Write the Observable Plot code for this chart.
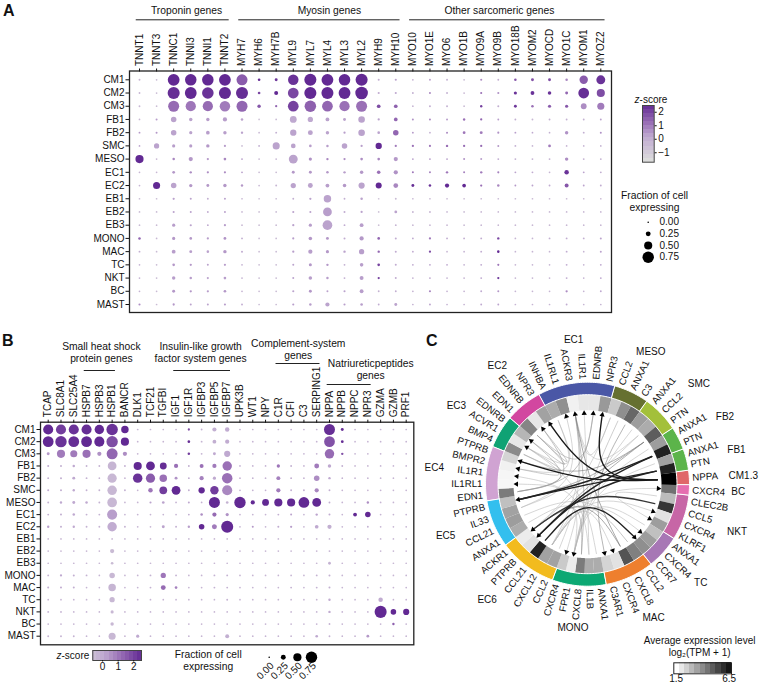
<!DOCTYPE html>
<html><head><meta charset="utf-8">
<script src="https://cdn.jsdelivr.net/npm/d3@7"></script>
<script src="https://cdn.jsdelivr.net/npm/@observablehq/plot@0.6"></script>
<style>
html,body{margin:0;padding:0;background:#fff}
#page{position:relative;width:760px;height:686px;overflow:hidden;font-family:"Liberation Sans",Arial,sans-serif;color:#111}
#page>svg,#page>figure{position:absolute;margin:0;background:transparent}
.letter{position:absolute;font-weight:bold;font-size:16px;line-height:16px}
</style></head><body><div id="page"></div>
<script>
const cellTypes=["CM1","CM2","CM3","FB1","FB2","SMC","MESO","EC1","EC2","EB1","EB2","EB3","MONO","MAC","TC","NKT","BC","MAST"];
const genesA=["TNNT1","TNNT3","TNNC1","TNNI3","TNNI1","TNNT2","MYH7","MYH6","MYH7B","MYL9","MYL7","MYL4","MYL3","MYL2","MYH9","MYH10","MYO10","MYO1E","MYO6","MYO1B","MYO9A","MYO9B","MYO18B","MYOM2","MYOCD","MYO1C","MYOM1","MYOZ2"];
const groupsA=[["Troponin genes","TNNT1","TNNT2"],["Myosin genes","MYH7","MYH10"],["Other sarcomeric genes","MYO10","MYOZ2"]];
const fractionA=[
[.02,.01,.78,.76,.76,.78,.72,.08,.1,.68,.8,.78,.76,.8,.03,.04,.01,.02,.02,.01,.04,.02,.07,.1,.1,.07,.52,.56],
[.02,.01,.8,.78,.76,.8,.8,.08,.18,.7,.8,.8,.78,.84,.04,.04,.02,.03,.02,.01,.04,.04,.12,.17,.15,.1,.7,.5],
[.02,.01,.72,.66,.66,.68,.72,.14,.05,.7,.76,.7,.66,.72,.16,.16,.01,.02,.02,.01,.06,.03,.1,.07,.12,.12,.32,.42],
[.01,.03,.3,.14,.14,.2,.07,.01,.01,.4,.28,.17,.1,.38,.05,.16,.03,.03,.03,.06,.05,.02,.02,.02,.02,.02,.02,.02],
[.02,.03,.3,.12,.16,.14,.06,.01,.02,.36,.25,.14,.05,.38,.08,.3,.02,.01,.03,.09,.1,.04,.02,.01,.01,.14,.02,.03],
[.01,.28,.12,.12,.14,.05,.01,.02,.42,.24,.08,.07,.3,.05,.36,.05,.05,.04,.06,.05,.05,.03,.02,.01,.09,.01,.01,.01],
[.5,.01,.07,.2,.05,.08,.02,.01,.01,.56,.12,.06,.05,.08,.08,.2,.02,.02,.02,.03,.03,.02,.02,.02,.02,.14,.02,.02],
[.01,.01,.09,.06,.05,.05,.02,.01,.01,.1,.1,.07,.06,.14,.15,.2,.03,.03,.06,.03,.06,.04,.02,.02,.01,.22,.02,.02],
[.01,.42,.3,.13,.1,.14,.06,.01,.02,.28,.25,.17,.15,.35,.34,.24,.1,.07,.2,.16,.05,.07,.02,.02,.02,.18,.02,.02],
[.01,.01,.05,.03,.02,.03,.01,.01,.01,.02,.05,.45,.02,.07,.01,.02,.01,.01,.01,.01,.01,.01,.01,.01,.01,.01,.01,.01],
[.01,.01,.04,.03,.02,.03,.01,.01,.01,.04,.04,.55,.03,.05,.01,.09,.02,.02,.01,.01,.01,.01,.01,.01,.01,.01,.01,.01],
[.01,.01,.12,.04,.02,.05,.01,.01,.01,.05,.12,.62,.02,.17,.01,.02,.01,.01,.01,.01,.01,.01,.01,.01,.01,.01,.01,.01],
[.07,.01,.12,.08,.05,.09,.02,.01,.01,.04,.15,.1,.03,.2,.08,.03,.02,.05,.02,.02,.02,.06,.01,.01,.02,.02,.02,.03],
[.02,.01,.17,.1,.07,.14,.03,.01,.01,.05,.2,.12,.06,.28,.06,.03,.02,.05,.01,.01,.02,.07,.01,.01,.01,.02,.01,.03],
[.01,.01,.08,.05,.03,.05,.01,.01,.01,.03,.11,.06,.02,.15,.08,.03,.02,.02,.02,.01,.02,.04,.01,.01,.01,.02,.01,.02],
[.01,.01,.14,.07,.04,.08,.01,.01,.01,.03,.15,.07,.02,.18,.05,.03,.01,.02,.01,.01,.02,.05,.01,.01,.01,.02,.01,.02],
[.01,.01,.1,.05,.05,.08,.01,.01,.01,.04,.1,.03,.04,.17,.02,.02,.01,.04,.01,.01,.02,.03,.01,.01,.01,.05,.01,.02],
[.04,.01,.05,.03,.03,.04,.02,.01,.01,.04,.07,.2,.04,.08,.02,.1,.01,.02,.01,.01,.02,.02,.01,.01,.01,.02,.01,.01]];
const zscoreA=[
[-.4,-.6,2.4,2.4,2.4,2.4,1.4,2.3,2.1,2.2,2.4,2.4,2.4,2.4,-.2,.1,-.3,.2,-.2,-.6,.5,-.2,1.5,1.6,1.7,.6,1.4,2.2],
[-.4,-.6,2.3,2.4,2.2,2.4,2.3,1.8,2.4,1.8,2.4,2.4,2.4,2.4,-.1,0,-.2,.6,-.2,-.5,1,.4,2.2,2.2,2.2,1.2,2.3,1.7],
[-.5,-.7,1.1,.9,1.1,.8,1.2,1.5,1.2,1.9,1.3,1.2,1,1,1.7,1.3,-.4,-.1,-.2,-.6,1.9,-.2,2.1,1,1.4,1.5,.5,.8],
[-.5,.2,.1,.1,.2,.2,.1,-.8,-.6,0,0,.1,.1,.1,.1,1.2,.4,.6,.2,1,1.2,.2,-.2,-.5,-.3,-.3,-.3,.1],
[.3,.3,.1,.1,.2,.2,.1,-.5,-.2,.1,.1,.1,.2,.1,.1,1.2,.3,-.2,.6,.9,.8,.4,.2,0,-.2,.4,-.2,.4],
[.1,.1,.2,.2,.3,.2,-.6,-.2,.1,.1,.2,.2,.1,.2,2.4,.8,1,.9,1,1.1,1.1,.3,-.2,-.4,.8,-.3,-.4,-.3],
[2.4,-.5,.6,.3,.3,.6,.1,-.5,-.5,.1,.4,.6,.5,.5,.6,.3,.1,.2,.1,.4,.2,-.1,-.2,-.3,-.3,.5,-.3,-.3],
[-.4,-.5,.3,.5,.5,.5,.1,-.6,-.6,.3,.3,.3,.2,.3,1,.4,.9,.7,.9,.7,.8,.7,.1,-.1,-.4,2.2,.1,-.2],
[-.4,2.4,.1,.3,.3,.3,.3,-.5,-.4,.1,.1,.2,.3,.1,2.4,.6,2.3,2.2,2.4,2.4,1,.6,.3,.1,-.1,1.5,.1,-.1],
[-.6,-.6,.1,.1,-.2,.1,-.5,-.7,-.6,-.2,.1,.1,-.2,.1,-.8,-.6,-.5,-.5,-.5,-.6,-.5,-.5,-.5,-.5,-.5,-.5,-.5,-.5],
[-.6,-.6,.1,.1,-.1,.1,-.5,-.7,-.6,.1,.1,.2,-.1,.1,-.8,.1,-.4,-.4,-.5,-.6,-.5,-.5,-.5,-.5,-.5,-.5,-.5,-.5],
[-.6,-.6,.2,.1,-.1,.2,-.5,-.7,-.6,.1,.2,.1,-.1,.2,-.8,-.4,-.5,-.5,-.5,-.6,-.5,-.5,-.5,-.5,-.5,-.5,-.5,-.5],
[1.2,-.5,.3,.3,.2,.4,-.2,-.6,-.6,.2,.3,.3,-.1,.3,1.2,-.1,-.1,.8,-.1,-.2,-.1,1.8,-.4,-.4,-.2,-.1,-.2,.1],
[-.2,-.6,.2,.2,.1,.3,-.1,-.6,-.6,.2,.2,.3,.1,.2,1.2,-.1,-.1,1.7,-.4,-.3,-.1,2.4,-.4,-.4,-.4,-.1,-.4,.1],
[-.3,-.6,.3,.3,.1,.2,-.3,-.6,-.6,.1,.3,.3,-.2,.2,1.9,-.1,-.1,0,-.1,-.3,0,.9,-.4,-.4,-.4,-.1,-.4,0],
[-.3,-.6,.2,.2,.1,.2,-.3,-.6,-.6,.1,.2,.2,-.2,.2,1.9,-.1,-.3,0,-.3,-.3,0,2.1,-.4,-.4,-.4,-.1,-.4,0],
[-.3,-.6,.3,.3,.2,.3,-.3,-.6,-.6,.1,.3,.1,.1,.2,-.3,-.2,-.3,.6,-.3,-.3,0,.3,-.4,-.4,-.4,.5,-.4,0],
[.5,-.6,.3,.1,.1,.2,-.1,-.6,-.6,.2,.2,.1,.2,.2,-.1,.1,-.3,.1,-.3,-.3,0,.1,-.4,-.4,-.4,-.1,-.4,-.4]];

const genesB=["TCAP","SLC8A1","SLC25A4","HSPB7","HSPB3","HSPB1","BANCR","DLK1","TCF21","TGFBI","IGF1","IGF1R","IGFBP3","IGFBP5","IGFBP7","UPK3B","WT1","NPY","C1R","CFI","C3","SERPING1","NPPA","NPPB","NPPC","NPR3","GZMA","GZMB","PRF1"];
const groupsB=[["Small heat shock\nprotein genes","HSPB7","HSPB1"],["Insulin-like growth\nfactor system genes","IGF1","IGFBP7"],["Complement-system\ngenes","C1R","SERPING1"],["Natriureticpeptides\ngenes","NPPA","NPR3"]];
const fractionB=[
[.65,.65,.65,.65,.6,.75,.45,.01,.01,.01,.01,.05,.02,.2,.22,.01,.01,.01,.01,.01,.01,.01,.72,.1,.01,.01,.01,.01,.01],
[.7,.75,.7,.7,.65,.75,.5,.01,.01,.01,.01,.08,.02,.17,.2,.01,.01,.01,.01,.01,.01,.01,.7,.09,.01,.01,.01,.01,.01],
[.1,.5,.42,.5,.2,.72,.2,.01,.01,.01,.01,.07,.02,.1,.35,.01,.01,.01,.01,.01,.01,.01,.6,.06,.01,.01,.01,.01,.01],
[.03,.03,.07,.02,.02,.55,.02,.5,.55,.4,.2,.02,.18,.2,.6,.01,.01,.01,.13,.02,.01,.25,.14,.02,.01,.01,.01,.01,.01],
[.02,.03,.1,.02,.01,.58,.01,.6,.58,.45,.1,.02,.2,.12,.68,.01,.01,.01,.18,.02,.01,.3,.06,.01,.01,.01,.01,.01,.01],
[.03,.03,.06,.02,.02,.6,.02,.01,.22,.47,.55,.02,.36,.52,.65,.01,.01,.01,.2,.02,.02,.2,.02,.01,.01,.01,.01,.01,.01],
[.02,.06,.1,.07,.02,.62,.01,.01,.04,.08,.01,.03,.01,.72,.08,.75,.2,.4,.5,.5,.7,.55,.02,.01,.01,.06,.01,.01,.01],
[.02,.03,.07,.02,.02,.65,.01,.01,.01,.01,.01,.02,.07,.2,.12,.01,.01,.01,.02,.03,.01,.06,.03,.01,.17,.3,.01,.01,.01],
[.06,.03,.06,.02,.02,.6,.02,.01,.01,.1,.02,.06,.3,.26,.8,.01,.03,.01,.03,.05,.01,.16,.2,.01,.01,.02,.01,.01,.01],
[.01,.01,.01,.01,.01,.01,.01,.01,.01,.01,.01,.01,.01,.01,.01,.01,.01,.01,.01,.01,.01,.01,.01,.01,.01,.01,.01,.01,.01],
[.01,.01,.01,.01,.01,.2,.01,.01,.01,.01,.01,.01,.01,.01,.01,.01,.01,.01,.01,.01,.01,.01,.02,.01,.01,.01,.01,.01,.01],
[.01,.01,.01,.01,.01,.08,.01,.01,.01,.01,.01,.01,.01,.01,.01,.01,.01,.01,.01,.01,.01,.01,.09,.01,.01,.01,.01,.01,.01],
[.02,.05,.03,.02,.01,.3,.01,.01,.02,.28,.02,.01,.01,.02,.02,.01,.01,.01,.01,.01,.01,.02,.03,.01,.01,.01,.01,.01,.01],
[.03,.03,.03,.01,.01,.45,.01,.01,.02,.25,.08,.01,.01,.02,.02,.01,.01,.01,.01,.02,.01,.02,.03,.01,.01,.01,.01,.01,.01],
[.01,.01,.01,.01,.01,.28,.01,.01,.01,.01,.01,.01,.01,.01,.02,.01,.01,.01,.01,.01,.01,.01,.06,.01,.01,.01,.22,.01,.01],
[.02,.02,.01,.01,.01,.12,.01,.01,.01,.01,.01,.01,.01,.01,.01,.01,.01,.01,.01,.01,.01,.01,.06,.01,.01,.01,.8,.3,.35],
[.01,.01,.01,.01,.01,.14,.01,.01,.01,.01,.01,.01,.01,.01,.01,.01,.01,.01,.01,.01,.01,.01,.02,.01,.01,.01,.01,.06,.01],
[.02,.02,.02,.01,.01,.42,.01,.12,.01,.01,.01,.01,.01,.01,.18,.01,.01,.01,.01,.01,.01,.08,.02,.01,.01,.09,.01,.01,.01]];
const zscoreB=[
[2.4,2,2.2,2.3,2.4,2.2,2.4,-.4,-.4,-.4,-.4,1.7,-.4,-.2,-.1,-.4,-.4,-.4,-.4,-.4,-.4,-.4,2.3,2.3,-.4,-.4,-.4,-.4,-.4],
[2.4,2.2,2.3,2.4,2.4,1.7,2.4,-.4,-.4,-.4,-.4,2.3,-.4,-.2,-.1,-.4,-.4,-.4,-.4,-.4,-.4,-.4,1.6,2.3,-.4,-.4,-.4,-.4,-.4],
[.3,.8,.8,1,.4,1.2,.5,-.4,-.4,-.4,-.4,2,-.4,0,0,-.4,-.4,-.4,-.4,-.4,-.4,-.4,1.1,1.6,-.4,-.4,-.4,-.4,-.4],
[0,-.2,0,-.3,-.3,-.4,-.3,2.4,2.4,2.3,1,-.2,1,.8,1,-.3,-.3,-.3,.9,-.2,-.3,.8,0,-.2,-.4,-.4,-.4,-.4,-.4],
[-.2,-.2,0,-.3,-.4,-.5,-.4,2.2,1.4,1,.4,-.2,.7,0,1,-.3,-.3,-.3,.7,-.2,-.3,.5,0,-.3,-.4,-.4,-.4,-.4,-.4],
[-.1,-.2,0,-.3,-.3,-.5,-.3,-.4,.9,2,2.4,-.2,2.4,2,.6,-.3,-.3,-.3,.8,-.2,-.2,.6,-.2,-.4,-.4,-.4,-.4,-.4,-.4],
[-.3,0,0,0,-.3,-.5,-.4,-.4,.1,.1,-.3,0,-.3,2.4,-.3,2.4,2.4,2.4,2.4,2.4,2.4,2.4,-.2,-.4,-.4,.5,-.4,-.4,-.4],
[-.2,-.2,0,-.3,-.3,.2,-.4,-.4,-.4,-.4,-.4,-.2,.5,1.1,.4,-.4,-.4,-.4,-.2,.1,-.4,.1,-.1,-.4,2.4,2.4,-.4,-.4,-.4],
[.2,-.2,0,-.3,-.3,-.1,-.3,-.4,-.4,.1,-.2,.2,2.4,.8,2.4,-.4,.3,-.4,-.1,.2,-.4,0,-.2,-.4,-.4,-.3,-.4,-.4,-.4],
[-.5,-.5,-.5,-.5,-.5,-.5,-.5,-.5,-.5,-.5,-.5,-.5,-.5,-.5,-.5,-.5,-.5,-.5,-.5,-.5,-.5,-.5,-.5,-.5,-.5,-.5,-.5,-.5,-.5],
[-.5,-.5,-.5,-.5,-.5,-.6,-.5,-.5,-.5,-.5,-.5,-.5,-.5,-.5,-.5,-.5,-.5,-.5,-.5,-.5,-.5,-.5,-.4,-.5,-.5,-.5,-.5,-.5,-.5],
[-.5,-.5,-.5,-.5,-.5,-.6,-.5,-.5,-.5,-.5,-.5,-.5,-.5,-.5,-.5,-.5,-.5,-.5,-.5,-.5,-.5,-.5,-.3,-.5,-.5,-.5,-.5,-.5,-.5],
[-.3,0,-.2,-.3,-.4,-.5,-.4,-.4,-.3,.9,-.3,-.4,-.4,-.3,-.3,-.4,-.4,-.4,-.4,-.4,-.4,-.3,-.3,-.4,-.4,-.4,-.4,-.4,-.4],
[-.2,-.1,-.2,-.4,-.4,-.4,-.4,-.4,-.3,1.1,.7,-.4,-.4,-.3,-.3,-.4,-.4,-.4,-.4,-.3,-.4,-.3,-.2,-.4,-.4,-.4,-.4,-.4,-.4],
[-.4,-.4,-.4,-.4,-.4,-.5,-.4,-.4,-.4,-.4,-.4,-.4,-.4,-.4,-.3,-.4,-.4,-.4,-.4,-.4,-.4,-.4,-.1,-.4,-.4,-.4,-.1,-.4,-.4],
[-.3,-.3,-.4,-.4,-.4,-.5,-.4,-.4,-.4,-.4,-.4,-.4,-.4,-.4,-.4,-.4,-.4,-.4,-.4,-.4,-.4,-.4,-.1,-.4,-.4,-.4,2.4,2.4,2.4],
[-.4,-.4,-.4,-.4,-.4,-.5,-.4,-.4,-.4,-.4,-.4,-.4,-.4,-.4,-.4,-.4,-.4,-.4,-.4,-.4,-.4,-.4,-.3,-.4,-.4,-.4,-.4,1.3,-.4],
[-.3,-.3,-.3,-.4,-.4,-.5,-.4,0,-.4,-.4,-.4,-.4,-.4,-.4,-.2,-.4,-.4,-.4,-.4,-.4,-.4,0,-.3,-.4,-.4,.3,-.4,-.4,-.4]];

const sectorNames=["EC1","MESO","SMC","FB2","FB1","CM1.3","BC","NKT","TC","MAC","MONO","EC6","EC5","EC4","EC3","EC2"];
const sectorColors=["#4a57a6","#667030","#a3c03a","#5cb44a","#5cb44a","#e0686a","#e56eb0","#c766a6","#a777b5","#ee7f2e","#0ca873","#f2bb1e","#33bfee","#d0a3d2","#0fa274","#d247a0"];
const sectorDegrees=[44.1,20,21.1,13.2,12.3,8.2,5.9,25.9,19.4,27.9,30.7,33.3,27.2,31.1,18.8,20.9];
const nameAngles=[-5.5,25.5,48,64,76.9,87,93,107.8,131,153.7,185.8,221,250,276,301,322.7];
const nameRadii=[145,147,150,153,153,156,151,157,150,149,144,153,151,154,153,149];
const sectorGenes=[["INHBA","IL1RL1","ACKR3","IL1R1","EDNRB","NPR3"],["CCL2","ANXA1","C3"],["ANXA1","CCL2","PTN"],["ANXA1","PTN"],["ANXA1","PTN"],["NPPA"],["CXCR4"],["CLEC2B","CCL5","CXCR4","KLRF1"],["ANXA1","CXCR4","CCR7"],["CCL2","CXCL8","CXCR4","C3AR1"],["ANXA1","IL1B","CXCL8","FPR1","CXCR4"],["CCL2","CXCL12","CCL21","PTPRB","ACKR1"],["ANXA1","CCL21","IL33","PTPRB"],["EDN1","IL1RL1","IL1R1","BMPR2","PTPRB"],["BMP4","ACVR1","EDNRB"],["EDN1","EDNRB","NPR3"]];
const sectorLevels=[[3,3.6,1.6,1.8,1.8,3.4],[2.4,3.6,4.4],[3.3,3,4.6],[3.3,5.8],[3.2,5.8],[6.5],[4.2],[2.7,5.4,1.9,3.3],[2.6,3.3,3.6],[3.9,4.8,1.9,2.2],[3,3,4,1.7,2.4],[3.2,3.2,5.8,1.9,1.7],[3,3.3,3.2,2.6],[4,1.5,1.5,1.6,2.2],[3.7,1.8,2.8],[3.8,1.8,3.2]];
const linkSources=["EC4:EDN1","EC4:EDN1","EC4:EDN1","EC2:EDN1","EC2:EDN1","EC2:EDN1","EC3:BMP4","EC3:BMP4","EC1:INHBA","EC1:INHBA","MONO:IL1B","MONO:IL1B","EC5:IL33","EC5:IL33","MESO:ANXA1","SMC:ANXA1","FB2:ANXA1","FB1:ANXA1","TC:ANXA1","EC5:ANXA1","MONO:ANXA1","MESO:C3","MESO:CCL2","SMC:CCL2","MAC:CCL2","EC6:CCL2","MESO:CCL2","SMC:CCL2","MONO:CXCL8","MAC:CXCL8","MONO:CXCL8","MAC:CXCL8","EC6:CXCL12","EC6:CXCL12","EC6:CXCL12","EC6:CXCL12","EC6:CXCL12","EC6:CXCL12","EC5:CCL21","NKT:CLEC2B","SMC:PTN","SMC:PTN","SMC:PTN","FB2:PTN","FB2:PTN","FB1:PTN","FB1:PTN","NKT:CCL5","EC6:CCL21","CM1.3:NPPA","CM1.3:NPPA","CM1.3:NPPA"];
const linkTargets=["EC1:EDNRB","EC2:EDNRB","EC3:EDNRB","EC1:EDNRB","EC2:EDNRB","EC3:EDNRB","EC4:BMPR2","EC3:ACVR1","EC3:ACVR1","EC4:BMPR2","EC1:IL1R1","EC4:IL1R1","EC1:IL1RL1","EC4:IL1RL1","MONO:FPR1","MONO:FPR1","MONO:FPR1","MONO:FPR1","MONO:FPR1","MONO:FPR1","EC3:ACVR1","MAC:C3AR1","EC1:ACKR3","EC1:ACKR3","EC6:ACKR1","EC1:ACKR3","EC6:ACKR1","EC6:ACKR1","EC1:ACKR3","EC1:ACKR3","EC6:ACKR1","EC6:ACKR1","BC:CXCR4","NKT:CXCR4","TC:CXCR4","MAC:CXCR4","MONO:CXCR4","EC1:ACKR3","TC:CCR7","NKT:KLRF1","EC4:PTPRB","EC5:PTPRB","EC6:PTPRB","EC5:PTPRB","EC6:PTPRB","EC5:PTPRB","EC6:PTPRB","EC6:ACKR1","TC:CCR7","EC1:NPR3","EC2:NPR3","EC4:PTPRB"];

const font="Liberation Sans";
const ink="#111";
const zColor={type:"linear",domain:[-1.7,0,1,2.5],range:["#dcdcdc","#bfa9d0","#9a70b6","#5e2490"]};
const rScale={type:"linear",domain:[0,.75],range:[.8,5.7]};
const page=document.getElementById("page");
function place(node,left,top){node.style.left=left+"px";node.style.top=top+"px";page.appendChild(node);}
function cells(fr,zs){return fr.flatMap((row,j)=>row.map((f,i)=>({col:i,row:j,f,z:zs[j][i]})));}

function dotPanel({genes,groups,fr,zs,w,h,box,first,last,rowFirst,rowLast,labelShift,labelY,bracketY}){
  const [l,r,t,b]=box;
  const sx=(last-first)/(genes.length-1), sy=(rowLast-rowFirst)/(cellTypes.length-1);
  const xd=[(l-first)/sx,(r-first)/sx], yd=[(t-rowFirst)/sy,(b-rowFirst)/sy];
  const pxY=v=>(v-rowFirst)/sy;
  const grp=groups.map((g,k)=>({name:g[0],a:genes.indexOf(g[1])-.22,b:genes.indexOf(g[2])+.22,shift:labelShift[k]/sx,lab:labelY[k],br:bracketY[k]}));
  return Plot.plot({width:w,height:h,marginLeft:l,marginRight:w-r,marginTop:t,marginBottom:h-b,
    style:{fontFamily:font,background:"transparent",color:ink},
    x:{domain:xd,axis:null},y:{domain:yd,range:[t,b],axis:null},color:zColor,r:rScale,
    marks:[
      Plot.frame({stroke:"#222",strokeWidth:1.3}),
      Plot.dot(cells(fr,zs),{x:"col",y:"row",r:"f",fill:"z",stroke:null}),
      Plot.axisX(d3.range(genes.length),{anchor:"top",label:null,tickFormat:i=>genes[i],tickRotate:-90,tickSize:3,tickPadding:2,fontSize:10,stroke:ink,fill:ink}),
      Plot.axisY(d3.range(cellTypes.length),{anchor:"left",label:null,tickFormat:i=>cellTypes[i],tickSize:3.5,tickPadding:1.5,fontSize:10,stroke:ink,fill:ink}),
      Plot.link(grp,{x1:"a",x2:"b",y1:d=>pxY(d.br),y2:d=>pxY(d.br),stroke:"#222",strokeWidth:1}),
      Plot.text(grp,{x:d=>(d.a+d.b)/2+d.shift,y:d=>pxY(d.lab),text:"name",fontSize:10.3,lineHeight:1.17,lineAnchor:"middle",fill:ink,textAnchor:"middle"})
    ]});
}
place(dotPanel({genes:genesA,groups:groupsA,fr:fractionA,zs:zscoreA,w:625,h:322,box:[129,611,70.5,312],first:139,last:600.3,rowFirst:79.3,rowLast:304,
  labelShift:[4.3,10.5,-7.4],labelY:[9.5,9.5,9.5],bracketY:[19.3,19.3,19.3]}),0,0);
place(dotPanel({genes:genesB,groups:groupsB,fr:fractionB,zs:zscoreB,w:418,h:324,box:[40,413.3,99.7,322.3],first:47.7,last:405.7,rowFirst:107,rowLast:313.7,
  labelShift:[2,-1,.7,22],labelY:[29.8,29.8,26.3,46.3],bracketY:[48,48,41,62]}),0,322);

function sliceRange(lo,hi,n){return d3.range(n).map(i=>({lo:lo+(hi-lo)*i/n,hi:lo+(hi-lo)*(i+1)/n}));}
const zA=Plot.plot({width:135,height:80,marginLeft:17,marginRight:106.3,marginTop:15,marginBottom:8.3,style:{fontFamily:font,background:"transparent",color:ink},
  x:{domain:[0,1],axis:null},y:{domain:[-1.7,2.5],axis:null},color:zColor,
  marks:[Plot.rect(sliceRange(-1.7,2.5,14),{x1:()=>0,x2:()=>1,y1:"lo",y2:"hi",fill:"lo",shapeRendering:"crispEdges"}),
    Plot.frame({stroke:"#444",strokeWidth:1}),
    Plot.axisY([-1,0,1,2],{anchor:"right",label:null,tickSize:2,tickPadding:2,fontSize:10,tickFormat:d=>d<0?"\u2212"+(-d):d}),
    Plot.text(["z"],{frameAnchor:"top",dy:-6,dx:-8.8,textAnchor:"end",text:d=>d,fontSize:10,fontStyle:"italic",lineAnchor:"middle"}),
    Plot.text(["-score"],{frameAnchor:"top",dy:-6,dx:-8.8,textAnchor:"start",text:d=>d,fontSize:10,lineAnchor:"middle"})]});
place(zA,625,90);
const legendFracs=[0,.25,.5,.75];
const szA=Plot.plot({width:145,height:80,margin:0,style:{fontFamily:font,background:"transparent",color:ink},
  x:{domain:[0,145],axis:null},y:{domain:[0,.75],range:[36.7,71.7],axis:null},r:rScale,
  marks:[Plot.dot(legendFracs,{x:()=>32.7,y:d=>d,r:d=>d,fill:"#000",stroke:null}),
    Plot.text(legendFracs,{x:()=>44,y:d=>d,text:d=>d.toFixed(2),textAnchor:"start",fontSize:10,lineAnchor:"middle"}),
    Plot.text(["Fraction of cell\nexpressing"],{x:()=>39,frameAnchor:"top",dy:5,text:d=>d,fontSize:10.3,lineHeight:1.17,textAnchor:"middle",lineAnchor:"top"})]});
place(szA,615,185);

const zB=Plot.plot({width:115,height:30,marginLeft:52.3,marginRight:14,marginTop:4,marginBottom:16,style:{fontFamily:font,background:"transparent",color:ink},
  y:{domain:[0,1],axis:null},x:{domain:[-.63,2.5],axis:null},color:zColor,
  marks:[Plot.rect(sliceRange(-.63,2.5,12),{y1:()=>0,y2:()=>1,x1:"lo",x2:"hi",fill:"lo",shapeRendering:"crispEdges"}),
    Plot.frame({stroke:"#444",strokeWidth:1}),
    Plot.axisX([0,1,2],{anchor:"bottom",label:null,tickSize:1.5,tickPadding:1,fontSize:10}),
    Plot.text(["z"],{frameAnchor:"left",dx:-31.3,textAnchor:"end",text:d=>d,fontSize:10,fontStyle:"italic"}),
    Plot.text(["-score"],{frameAnchor:"left",dx:-31.3,textAnchor:"start",text:d=>d,fontSize:10})]});
place(zB,40,646);
const szB=Plot.plot({width:200,height:40,margin:0,style:{fontFamily:font,background:"transparent",color:ink},
  x:{domain:[0,.75],range:[108.7,151],axis:null},y:{domain:[0,40],range:[0,40],axis:null},r:rScale,
  marks:[Plot.dot(legendFracs,{x:d=>d,y:()=>10.7,r:d=>d,fill:"#000",stroke:null}),
    Plot.text(legendFracs,{x:d=>d,y:()=>17.5,dx:3,text:d=>d.toFixed(2),textAnchor:"end",rotate:-45,fontSize:10,lineAnchor:"middle"}),
    Plot.text(["Fraction of cell\nexpressing"],{frameAnchor:"top-left",dx:47.7,dy:3,text:d=>d,fontSize:10.3,lineHeight:1.17,textAnchor:"middle",lineAnchor:"top"})]});
place(szB,160,646);

/* Panel C */
const R={outer:102,mid:89.5,inner:74,arrow:72,lineEnd:70,gene:105};
const rad=t=>t*Math.PI/180;
const polar=(r,t)=>({x:r*Math.sin(rad(t)),y:-r*Math.cos(rad(t))});
function wedge(r0,r1,a0,a1,extra,key){
  const n=Math.max(2,Math.ceil(a1-a0));const outer=d3.range(n+1).map(i=>a0+(a1-a0)*i/n);
  return [...outer.map(t=>({...polar(r1,t),key,...extra})),...outer.slice().reverse().map(t=>({...polar(r0,t),key,...extra}))];
}
let start=-28.4;const sectorPolys=[],cellPolys=[],geneLabels=[],nameLabels=[],geneAngle={};
sectorNames.forEach((name,i)=>{
  const span=sectorDegrees[i],a0=start,a1=start+span,genes=sectorGenes[i],step=span/genes.length;
  sectorPolys.push(...wedge(R.mid,R.outer,a0,a1,{color:sectorColors[i]},name));
  genes.forEach((g,k)=>{
    const c0=a0+k*step,c1=c0+step,mid=(c0+c1)/2,key=name+":"+g;
    geneAngle[key]=mid;
    cellPolys.push(...wedge(R.inner,R.mid,c0,c1,{level:sectorLevels[i][k]},key));
    geneLabels.push({...polar(R.gene,mid),g,theta:((mid%360)+360)%360});
  });
  nameLabels.push({...polar(nameRadii[i],nameAngles[i]),name});
  start=a1;
});
const levelOf=k=>{const [s,g]=k.split(":");const i=sectorNames.indexOf(s);return sectorLevels[i][sectorGenes[i].indexOf(g)];};
const links=linkSources.map((s,i)=>({s,t:linkTargets[i],lvl:levelOf(s),id:i})).sort((a,b)=>a.lvl-b.lvl);
const linkPts=links.flatMap(l=>[{...polar(R.lineEnd,geneAngle[l.s]),...l},{x:0,y:0,...l},{...polar(R.lineEnd,geneAngle[l.t]),...l}]);
const arrowTips=[...new Set(linkTargets)].map(k=>({...polar(R.arrow-1,geneAngle[k]),theta:geneAngle[k]}));
const cx=169,cy=161.7,cw=342,ch=313;
const right=geneLabels.filter(d=>d.theta<180),left=geneLabels.filter(d=>d.theta>=180);
const chord=Plot.plot({width:cw,height:ch,margin:0,style:{fontFamily:font,background:"transparent",color:ink},
  x:{domain:[-cx,cw-cx],axis:null},y:{domain:[-cy,ch-cy],range:[0,ch],axis:null},
  color:{type:"linear",domain:[1.5,6.5],range:["#f6f6f6","#000000"]},
  marks:[
    Plot.line(cellPolys,{x:"x",y:"y",z:"key",curve:"linear-closed",fill:"level",stroke:null}),
    Plot.line(sectorPolys,{x:"x",y:"y",z:"key",curve:"linear-closed",fill:{value:"color",scale:null},stroke:"#fff",strokeWidth:1}),
    Plot.line(linkPts,{x:"x",y:"y",z:"id",curve:"bundle",tension:.85,stroke:d=>d.lvl>=5.3?Math.min(d.lvl,6):Math.max(2.7,d.lvl-.6),strokeWidth:d=>d.lvl>=5.3?1.4:.6}),
    Plot.dot(arrowTips,{x:"x",y:"y",symbol:"triangle2",r:2.5,fill:"#000",stroke:null,rotate:"theta"}),
    Plot.text(right,{x:"x",y:"y",text:"g",rotate:d=>d.theta-90,textAnchor:"start",fontSize:9.7,lineAnchor:"middle"}),
    Plot.text(left,{x:"x",y:"y",text:"g",rotate:d=>d.theta-270,textAnchor:"end",fontSize:9.7,lineAnchor:"middle"}),
    Plot.text(nameLabels,{x:"x",y:"y",text:"name",fontSize:10,textAnchor:"middle",lineAnchor:"middle"})
  ]});
place(chord,418,322);
const levelSteps=sliceRange(1.5,6.5,11);
const cbar=Plot.plot({width:120,height:51,marginLeft:33.3,marginRight:29,marginTop:27.3,marginBottom:12.7,style:{fontFamily:font,background:"transparent",color:ink},
  y:{domain:[0,1],axis:null},x:{domain:[1.5,6.5],axis:null},color:{type:"linear",domain:[1.5,6.5],range:["#ffffff","#000000"]},
  marks:[Plot.rect(levelSteps,{y1:()=>0,y2:()=>1,x1:"lo",x2:"hi",fill:"lo",shapeRendering:"crispEdges"}),
    Plot.frame({stroke:"#222",strokeWidth:1}),
    Plot.axisX([1.7,6.3],{anchor:"bottom",label:null,tickSize:0,tickPadding:1,fontSize:10,tickFormat:d=>d<3?"1.5":"6.5"}),
    Plot.text(["Average expression level"],{frameAnchor:"top",dx:-3,dy:-22,text:d=>d,fontSize:10,textAnchor:"middle",lineAnchor:"middle"}),
    Plot.text(["log\u2082(TPM + 1)"],{frameAnchor:"top",dx:-3,dy:-9.6,text:d=>d,fontSize:10,textAnchor:"middle",lineAnchor:"middle"})]});
place(cbar,640,635);
[["A",3,3],["B",2,333],["C",426,333]].forEach(([t,x,y])=>{const d=document.createElement("div");d.className="letter";d.textContent=t;d.style.left=x+"px";d.style.top=y+"px";page.appendChild(d);});
</script></body></html>
